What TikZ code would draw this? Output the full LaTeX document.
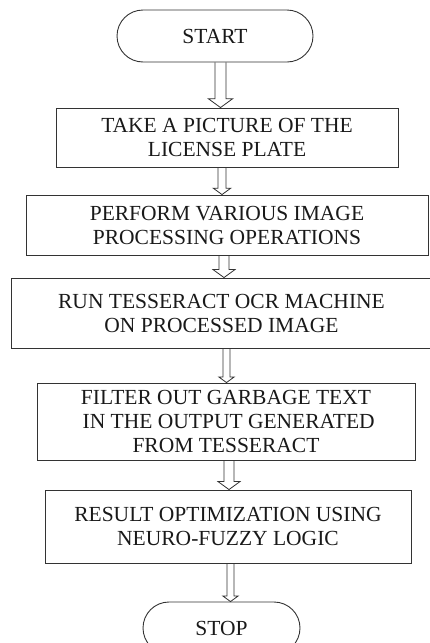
\documentclass[tikz,border=0pt]{standalone}
\usepackage{fontspec}
\setmainfont{Liberation Serif}
\usetikzlibrary{shapes.misc,calc}

% hollow block arrow: x, shaft half width, from node, to node
\newcommand{\hollowarrow}[4]{%
  \draw[harrow] let \p1=(#3.south), \p2=(#4.north) in
    (#1pt-#2pt,\y1) -- (#1pt-#2pt,\y2+1.6*#2pt) -- (#1pt-2.2*#2pt,\y2+1.6*#2pt)
    -- (#1pt,\y2) -- (#1pt+2.2*#2pt,\y2+1.6*#2pt) -- (#1pt+#2pt,\y2+1.6*#2pt)
    -- (#1pt+#2pt,\y1);}

\begin{document}
\begin{tikzpicture}[x=1pt,y=-1pt,
    line width=0.9pt,
    every node/.style={font=\fontsize{21.5}{24}\selectfont,text=black!90},
    term/.style={draw=black!80,rounded rectangle,inner sep=0pt},
    proc/.style={draw=black!80,rectangle,align=center,inner sep=0pt},
    harrow/.style={draw=black!80,line width=0.8pt,line join=miter}]
  \useasboundingbox (0,0) rectangle (430,643);

  \node[term,minimum width=196pt,minimum height=52pt] (S) at (215,36) {START};
  \node[proc,minimum width=342pt,minimum height=59pt] (A) at (227,137.5)
    {TAKE A PICTURE OF THE\\LICENSE PLATE};
  \node[proc,minimum width=402pt,minimum height=60pt] (B) at (227,225)
    {PERFORM VARIOUS IMAGE\\PROCESSING OPERATIONS};
  \node[proc,minimum width=421pt,minimum height=70pt] (C) at (221.5,313)
    {RUN TESSERACT OCR MACHINE\\ON PROCESSED IMAGE};
  \node[proc,minimum width=378pt,minimum height=77pt] (D) at (226,421.5)
    {FILTER OUT GARBAGE TEXT\\\ IN THE OUTPUT GENERATED\\FROM TESSERACT};
  \node[proc,minimum width=366pt,minimum height=73pt] (E) at (228,526.5)
    {RESULT OPTIMIZATION USING\\NEURO-FUZZY LOGIC};
  \node[term,minimum width=157pt,minimum height=52pt] (T) at (221.5,628) {STOP};

  \hollowarrow{220.5}{5.5}{S}{A}
  \hollowarrow{222}{4}{A}{B}
  \hollowarrow{224}{5}{B}{C}
  \hollowarrow{226.5}{3.5}{C}{D}
  \hollowarrow{229}{5}{D}{E}
  \hollowarrow{230.5}{3.5}{E}{T}
\end{tikzpicture}
\end{document}
